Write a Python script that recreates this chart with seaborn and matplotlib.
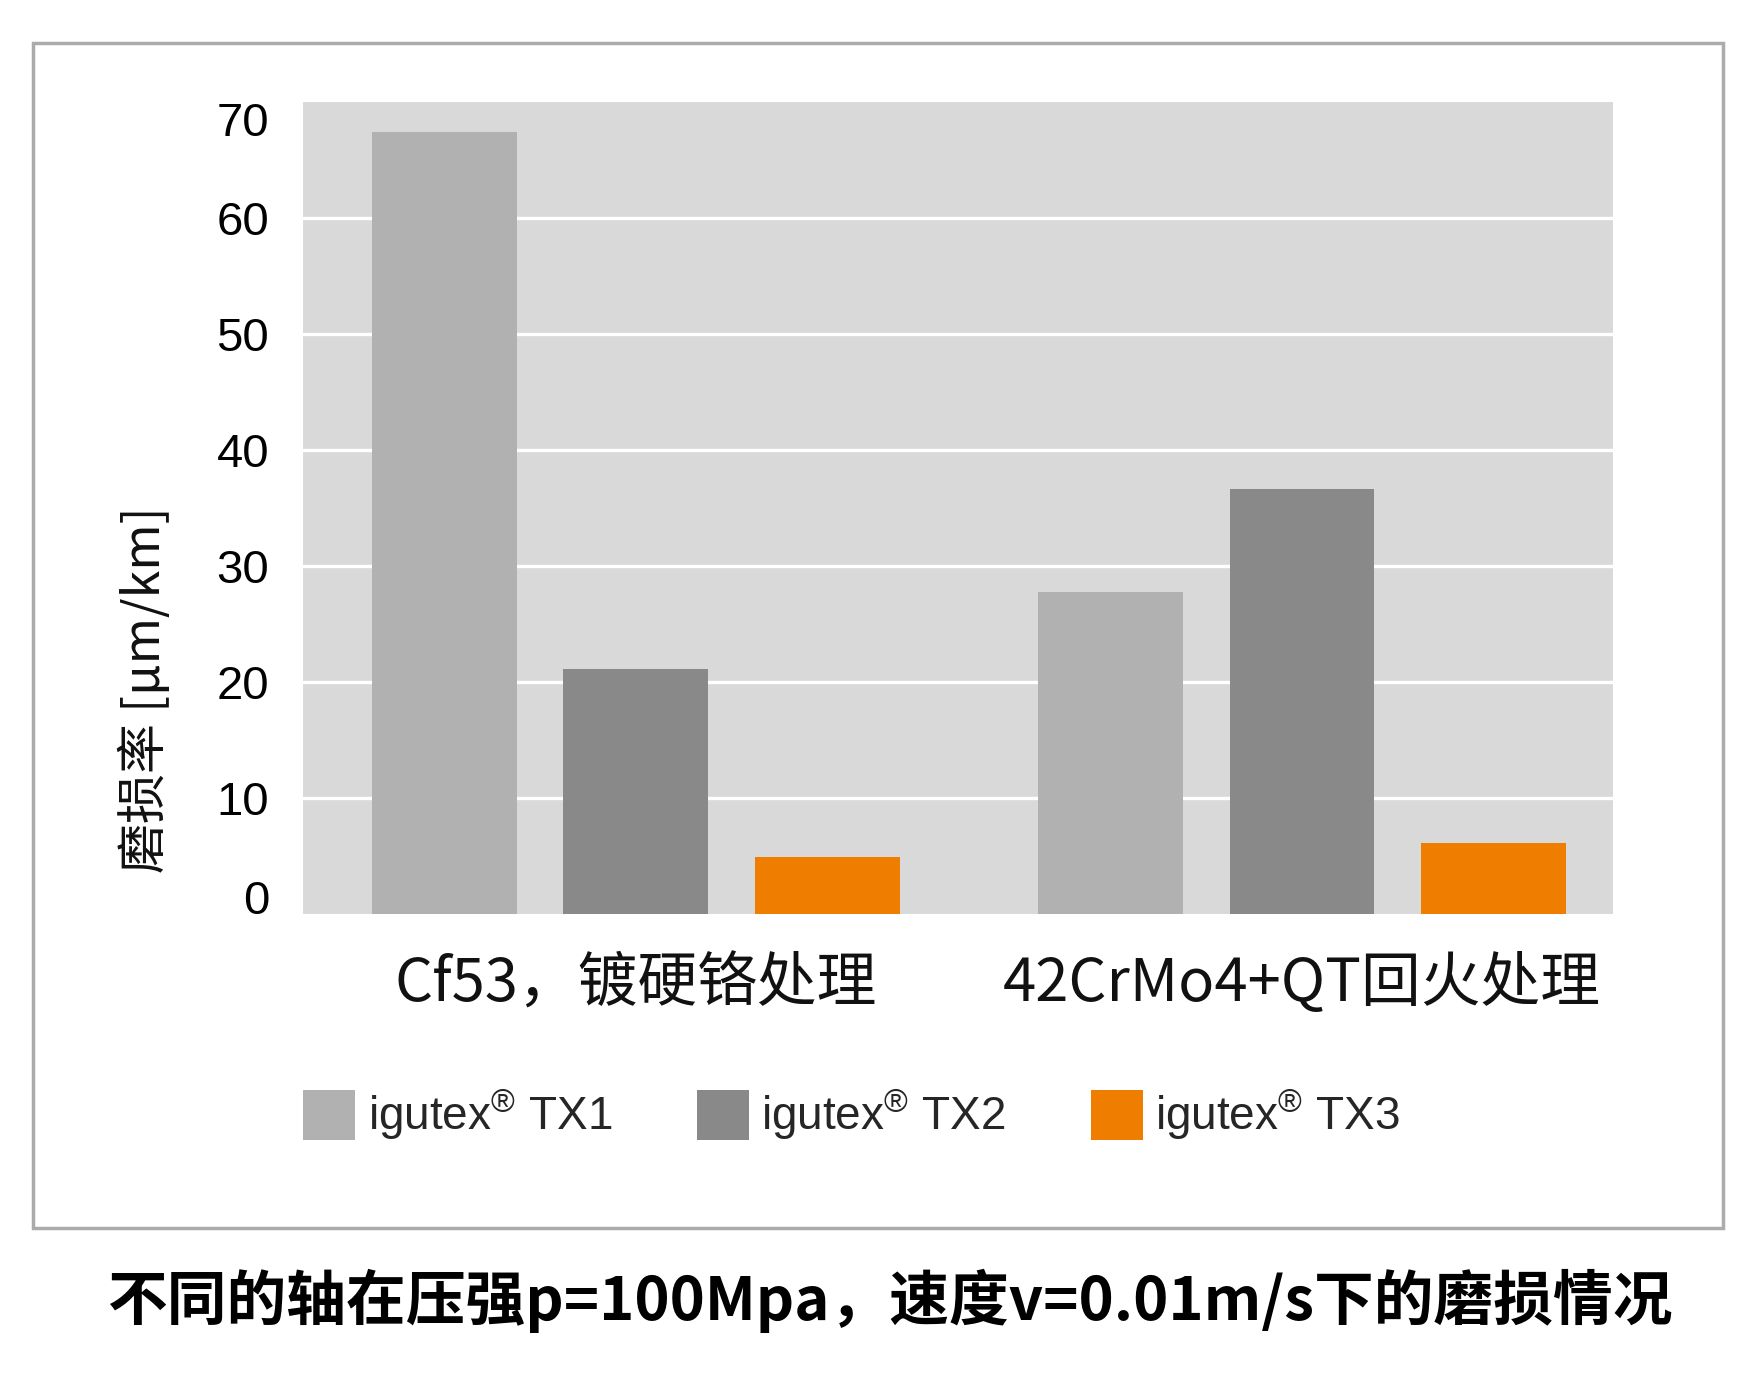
import matplotlib.pyplot as plt
import matplotlib.patches as mpatches
import pandas as pd
import seaborn as sns

# values
categories = ["Cf53，镀硬铬处理", "42CrMo4+QT回火处理"]
series = ["igutex$^{®}$ TX1", "igutex$^{®}$ TX2", "igutex$^{®}$ TX3"]
tx1 = [67.4, 27.8]
tx2 = [21.1, 36.6]
tx3 = [4.9, 6.1]
colors = ["#b1b1b1", "#898989", "#ee7d00"]
yticks = [0, 10, 20, 30, 40, 50, 60, 70]

title = "不同的轴在压强p=100Mpa，速度v=0.01m/s下的磨损情况"
ylabel = "磨损率 [µm/km]"

df = pd.DataFrame({
    "category": categories * 3,
    "series": [series[0]] * 2 + [series[1]] * 2 + [series[2]] * 2,
    "value": tx1 + tx2 + tx3,
})

sns.set_style("white", {"axes.facecolor": "#d9d9d9"})
plt.rcParams["font.family"] = ["Liberation Sans", "Noto Sans CJK SC", "DejaVu Sans"]
plt.rcParams["mathtext.fontset"] = "custom"
plt.rcParams["mathtext.rm"] = "Liberation Sans"

fig = plt.figure(figsize=(17.44, 13.8), dpi=100)
ax = fig.add_axes([0.1735, 0.3377, 0.7515, 0.5883])

sns.barplot(data=df, x="category", y="value", hue="series", palette=colors,
            width=0.862, gap=0.244, saturation=1, linewidth=0, ax=ax, legend=False)

ax.set_ylim(0, 70)
ax.set_xlim(-0.5, 1.467)
ax.set_yticks(yticks)
for y in yticks[1:-1]:
    ax.axhline(y, color="white", lw=2.4, zorder=0.5)
ax.set_axisbelow(True)
for s in ax.spines.values():
    s.set_visible(False)

ax.tick_params(axis="y", length=0, pad=24, labelsize=34, labelcolor="#000000")
ax.tick_params(axis="x", length=0, pad=29)
ylabs = ax.get_yticklabels()
ylabs[0].set_va("baseline")
ylabs[-1].set_va("top")

ax.set_xticks([0, 1])
ax.set_xticklabels(categories, family=["Noto Sans CJK SC", "DejaVu Sans"],
                   fontweight="light", fontsize=43, color="#111111")
ax.set_xlabel("")
ax.set_ylabel(ylabel, fontsize=36, family=["Noto Sans CJK SC", "DejaVu Sans"],
              fontweight="light", color="#111111")
ax.yaxis.set_label_coords(-0.1, 0.276)

handles = [mpatches.Patch(color=c, label=s, linewidth=0) for c, s in zip(colors, series)]
fig.legend(handles=handles, loc="center left", bbox_to_anchor=(0.174, 0.192),
           ncol=3, frameon=False, fontsize=33, handlelength=1.13, handleheight=1.3,
           handletextpad=0.27, columnspacing=1.86, borderpad=0, borderaxespad=0)

fig.text(0.51, 1 - 1301 / 1380, title, ha="center", va="center", fontsize=43,
         fontweight="bold", family=["Noto Sans CJK SC", "DejaVu Sans"], color="#000000")

fig.patches.append(mpatches.Rectangle((0.0189, 0.110), 0.969, 0.859, transform=fig.transFigure,
                                      fill=False, edgecolor="#ababab", lw=2.5))

fig.savefig("out.png", dpi=100)
